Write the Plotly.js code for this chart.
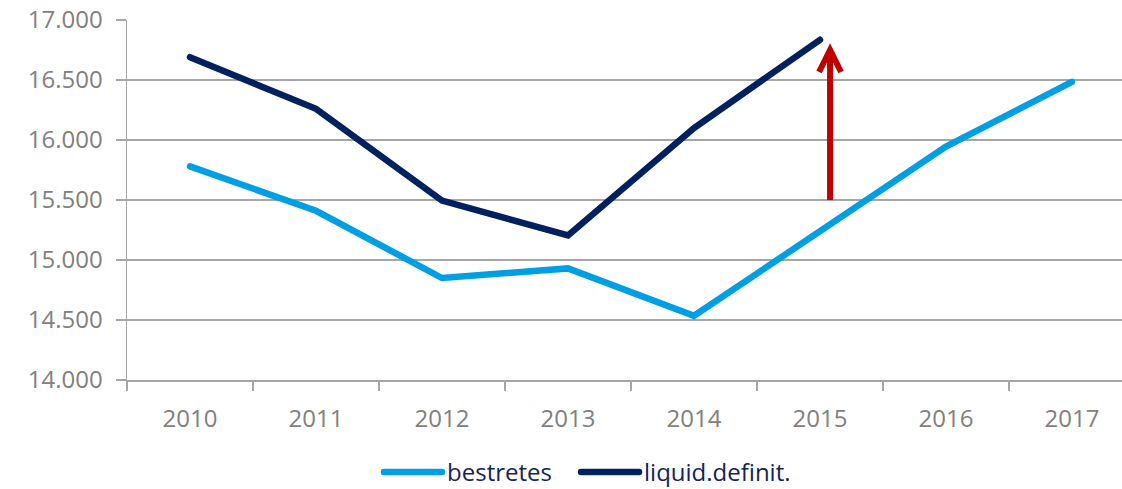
<!DOCTYPE html>
<html>
<head>
<meta charset="utf-8">
<script src="https://cdn.plot.ly/plotly-3.0.1.min.js"></script>
<style>
html,body{margin:0;padding:0;background:#fff;}
#chart{width:1122px;height:489px;}
.js-line{stroke-linecap:round;}
</style>
</head>
<body>
<div id="chart"></div>
<script>
const years = ['2010','2011','2012','2013','2014','2015','2016','2017'];
const bestretes = [15780, 15410, 14850, 14930, 14535, 15240, 15945, 16485];
const liquidYears = ['2010','2011','2012','2013','2014','2015'];
const liquidDefinit = [16690, 16260, 15495, 15205, 16100, 16835];
const seriesNames = ['bestretes', 'liquid.definit.'];
const arrowX = 5.08;       // just right of 2015
const arrowFrom = 15500;
const arrowTo = 16750;

const traces = [
  {x: years, y: bestretes, name: seriesNames[0], type: 'scatter', mode: 'lines',
   line: {color: '#009FE3', width: 6.5}, legend: 'legend'},
  {x: liquidYears, y: liquidDefinit, name: seriesNames[1], type: 'scatter', mode: 'lines',
   line: {color: '#002060', width: 6.5}, legend: 'legend2'}
];

const legendBase = {orientation: 'h', xanchor: 'left', yref: 'container', y: 0.08, yanchor: 'top',
  font: {size: 24, color: '#14235a'}, itemwidth: 58, bgcolor: 'rgba(0,0,0,0)'};

const layout = {
  width: 1122, height: 489,
  margin: {l: 127, r: 0, t: 20, b: 109, autoexpand: false},
  paper_bgcolor: '#fff', plot_bgcolor: '#fff',
  font: {family: '"Open Sans", sans-serif', size: 24, color: '#808080'},
  showlegend: true,
  legend: Object.assign({}, legendBase, {x: 0.2533}),
  legend2: Object.assign({}, legendBase, {x: 0.4513}),
  xaxis: {type: 'category', range: [-0.5, 7.397], tickson: 'boundaries',
          ticks: 'outside', ticklen: 9, tickcolor: '#a6a6a6', tickwidth: 1.5,
          showline: true, linecolor: '#a6a6a6', linewidth: 1.5, showgrid: false,
          tickfont: {size: 24, color: '#808080'}, ticklabelstandoff: 17, fixedrange: true},
  yaxis: {range: [14000, 17000], tickvals: [14000,14500,15000,15500,16000,16500,17000],
          ticktext: ['14.000','14.500','15.000','15.500','16.000','16.500','17.000'],
          ticks: 'outside', ticklen: 10, tickcolor: '#a6a6a6', tickwidth: 1.5,
          showline: true, linecolor: '#a6a6a6', linewidth: 1.5,
          showgrid: true, gridcolor: '#a6a6a6', gridwidth: 1.5, zeroline: false,
          tickfont: {size: 24, color: '#808080'}, ticklabelstandoff: 8, fixedrange: true},
  shapes: [
    {type: 'line', xref: 'x', yref: 'y', x0: arrowX, x1: arrowX, y0: arrowFrom, y1: arrowTo,
     line: {color: '#C00000', width: 6}},
    {type: 'path', xref: 'x', yref: 'y', xsizemode: 'pixel', ysizemode: 'pixel',
     xanchor: arrowX, yanchor: arrowTo, path: 'M-11,-22 L0,0 L11,-22',
     line: {color: '#C00000', width: 6}}
  ]
};

Plotly.newPlot('chart', traces, layout, {displayModeBar: false, staticPlot: true});
</script>
</body>
</html>
